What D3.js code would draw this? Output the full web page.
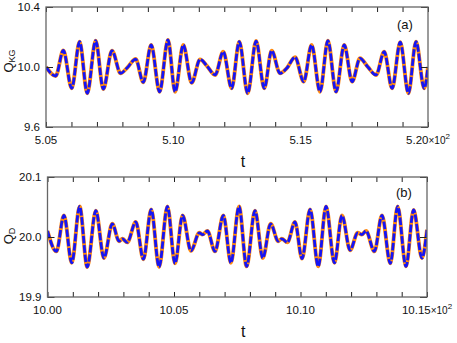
<!DOCTYPE html>
<html>
<head>
<meta charset="utf-8">
<script src="https://cdn.jsdelivr.net/npm/d3@7"></script>
<style>
body{margin:0;background:#fff}
text{font-family:"Liberation Sans",Arial,Helvetica,sans-serif;fill:#111}
</style>
</head>
<body>
<div id="chart"></div>
<script>
// panel (a): Q_KG against t (t in real units, axis shows t/100)
var tKG = [505.00,505.38,505.68,506.01,506.32,506.62,506.95,507.25,507.59,507.93,508.19,508.52,
	508.82,509.13,509.46,509.79,510.07,510.39,510.72,511.05,511.31,511.64,511.96,512.29,512.59,
	512.92,513.25,513.57,513.86,514.19,514.45,514.78,515.12,515.43,515.76,516.07,516.39,516.71,
	517.02,517.33,517.63,517.96,518.28,518.59,518.91,519.23,519.53,519.85,520.00]
var qKG = [10.00,9.94,10.11,9.858,10.169,9.825,10.175,9.853,10.109,9.958,9.995,10.053,
	9.898,10.147,9.835,10.18,9.835,10.147,9.895,10.051,10.009,9.947,10.102,9.858,10.169,
	9.825,10.173,9.858,10.109,9.958,9.991,10.065,9.902,10.147,9.835,10.175,9.835,10.147,
	9.902,10.058,10.002,9.947,10.102,9.858,10.165,9.825,10.169,9.858,10.00]

// panel (b): Q_D against t
var tD = [1000.00,1000.35,1000.65,1000.96,1001.27,1001.57,1001.91,1002.23,1002.56,1002.83,1002.96,
	1003.15,1003.49,1003.79,1004.10,1004.41,1004.74,1005.04,1005.34,1005.67,1006.00,1006.13,
	1006.32,1006.62,1006.95,1007.25,1007.57,1007.87,1008.20,1008.51,1008.82,1009.12,1009.26,
	1009.48,1009.78,1010.06,1010.38,1010.70,1011.01,1011.34,1011.64,1011.96,1012.26,1012.42,
	1012.59,1012.92,1013.22,1013.55,1013.84,1014.17,1014.47,1014.80,1015.00]
var qD = [20.010,19.976,20.036,19.957,20.051,19.950,20.044,19.965,20.022,19.993,19.997,
	19.991,20.025,19.963,20.046,19.950,20.051,19.956,20.036,19.977,20.007,20.004,
	20.010,19.976,20.036,19.957,20.051,19.951,20.044,19.965,20.022,19.993,19.997,
	19.991,20.025,19.964,20.046,19.951,20.051,19.957,20.036,19.978,20.007,20.004,
	20.010,19.976,20.036,19.956,20.051,19.951,20.045,19.965,20.012]

var kgXTicks = [505, 510, 515, 520]
var kgXLabels = ["5.05", "5.10", "5.15", "5.20"]
var kgYTicks = [9.6, 10.0, 10.4]
var kgYLabels = ["9.6", "10.0", "10.4"]

var dXTicks = [1000, 1005, 1010, 1015]
var dXLabels = ["10.00", "10.05", "10.10", "10.15"]
var dYTicks = [19.9, 20.0, 20.1]
var dYLabels = ["19.9", "20.0", "20.1"]

var svg = d3.select("#chart")
	.append("svg")
	.attr("width", 457)
	.attr("height", 343)

function drawPanel(p){
	var x = d3.scaleLinear().domain([p.xTicks[0], p.xTicks[p.xTicks.length-1]]).range([p.left, p.right])
	var y = d3.scaleLinear().domain([p.yTicks[0], p.yTicks[p.yTicks.length-1]]).range([p.bottom, p.top])

	var g = svg.append("g")

	g.append("clipPath").attr("id", "clip_" + p.id)
		.append("rect")
		.attr("x", p.left).attr("y", p.top)
		.attr("width", p.right - p.left).attr("height", p.bottom - p.top)

	var pts = p.t.map(function(d, i){ return [d, p.q[i]] })

	var line = d3.line()
		.x(function(d){ return x(d[0]) })
		.y(function(d){ return y(d[1]) })
		.curve(d3.curveMonotoneX)

	var lines = g.append("g").attr("clip-path", "url(#clip_" + p.id + ")")

	lines.append("path")
		.attr("d", line(pts))
		.attr("fill", "none")
		.attr("stroke", "#ff8a10")
		.attr("stroke-width", 3.9)

	lines.append("path")
		.attr("d", line(pts))
		.attr("fill", "none")
		.attr("stroke", "#1414f5")
		.attr("stroke-width", 2.8)
		.attr("stroke-dasharray", "7.5,1.8")

	// minor x ticks every unit of t
	var minor = d3.range(p.xTicks[0], p.xTicks[p.xTicks.length-1] + 0.5, 1)

	var axB = g.append("g").attr("transform", "translate(0," + p.bottom + ")")
		.call(d3.axisBottom(x).tickValues(minor).tickSize(-5).tickFormat(""))
	var axT = g.append("g").attr("transform", "translate(0," + p.top + ")")
		.call(d3.axisTop(x).tickValues(minor).tickSize(-5).tickFormat(""))
	var axL = g.append("g").attr("transform", "translate(" + p.left + ",0)")
		.call(d3.axisLeft(y).tickValues(p.yTicks).tickSize(-7).tickFormat(""))
	var axR = g.append("g").attr("transform", "translate(" + p.right + ",0)")
		.call(d3.axisRight(y).tickValues(p.yTicks).tickSize(-7).tickFormat(""))

	;[axB, axT, axL, axR].forEach(function(a){
		a.select(".domain").remove()
		a.selectAll("line").attr("stroke", "#222").attr("stroke-width", 1)
	})

	// frame
	g.append("rect")
		.attr("x", p.left).attr("y", p.top)
		.attr("width", p.right - p.left).attr("height", p.bottom - p.top)
		.attr("fill", "none")
		.attr("stroke", "#666")
		.attr("stroke-width", 1.3)

	// x tick labels
	g.selectAll(".xlab_" + p.id)
		.data(p.xTicks)
		.enter().append("text")
		.attr("class", "xlab_" + p.id)
		.attr("x", function(d){ return x(d) })
		.attr("y", p.bottom + 16.5)
		.attr("text-anchor", "middle")
		.attr("font-size", "11.5px")
		.each(function(d, i){
			var el = d3.select(this)
			el.append("tspan").text(p.xLabels[i])
			if (i == p.xTicks.length - 1){
				el.append("tspan").attr("font-size", "10px").text("×10")
				el.append("tspan").attr("font-size", "8px").attr("dy", -5).text("2")
			}
		})

	// y tick labels
	g.selectAll(".ylab_" + p.id)
		.data(p.yTicks)
		.enter().append("text")
		.attr("class", "ylab_" + p.id)
		.attr("x", p.left - 6)
		.attr("y", function(d){ return y(d) + 4 })
		.attr("text-anchor", "end")
		.attr("font-size", "11.5px")
		.text(function(d, i){ return p.yLabels[i] })

	// axis titles
	g.append("text")
		.attr("x", (p.left + p.right) / 2 + 6)
		.attr("y", p.bottom + 39.5)
		.attr("text-anchor", "middle")
		.attr("font-size", "16px")
		.text("t")

	var yt = g.append("text")
		.attr("transform", "translate(13," + p.yTitleY + ") rotate(-90)")
		.attr("text-anchor", "middle")
		.attr("font-size", "13px")
	yt.append("tspan").text("Q")
	yt.append("tspan").attr("font-size", "9px").attr("dy", 2).text(p.sub)

	g.append("text")
		.attr("x", p.right - 31)
		.attr("y", p.top + p.tagDy)
		.attr("font-size", "13px")
		.text(p.tag)
}

drawPanel({id: "a", t: tKG, q: qKG, xTicks: kgXTicks, xLabels: kgXLabels,
	yTicks: kgYTicks, yLabels: kgYLabels,
	left: 46, right: 428, top: 7, bottom: 127, sub: "KG", yTitleY: 61, tag: "(a)", tagDy: 21.5})

drawPanel({id: "b", t: tD, q: qD, xTicks: dXTicks, xLabels: dXLabels,
	yTicks: dYTicks, yLabels: dYLabels,
	left: 47.5, right: 427, top: 177, bottom: 297, sub: "D", yTitleY: 236, tag: "(b)", tagDy: 19.5})
</script>
</body>
</html>
